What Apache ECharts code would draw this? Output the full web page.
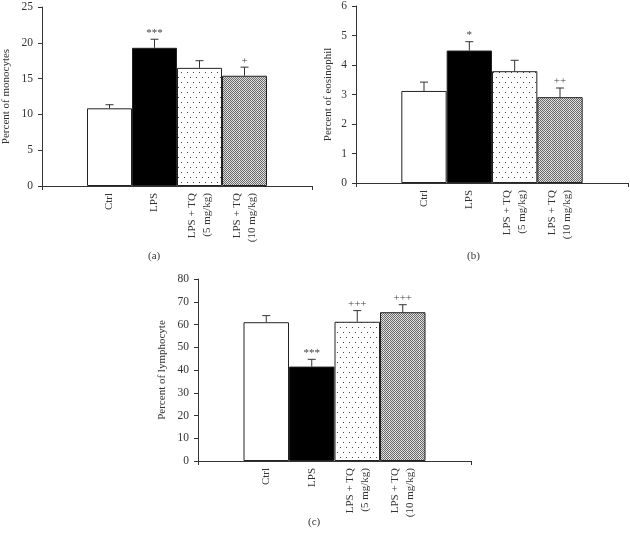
<!DOCTYPE html>
<html><head><meta charset="utf-8">
<script src="https://cdn.jsdelivr.net/npm/echarts@6/dist/echarts.min.js"></script>
<style>html,body{margin:0;padding:0;background:#fff}#c{width:630px;height:538px}</style>
</head><body><div id="c"></div>
<script>
// ---- data ----
const categories = ['', 'Ctrl', 'LPS', 'LPS + TQ\n(5 mg/kg)', 'LPS + TQ\n(10 mg/kg)', ''];
const monocytes = [null, 10.85, 19.3, 16.5, 15.4, null];
const monocytesSem = [null, 0.5, 1.2, 1.0, 1.2, null];
const monocytesSig = ['', '', '***', '', '+', ''];
const monocytesTicks = {min: 0, max: 25, interval: 5};

const eosinophil = [null, 3.12, 4.49, 3.79, 2.91, null];
const eosinophilSem = [null, 0.30, 0.30, 0.37, 0.31, null];
const eosinophilSig = ['', '', '*', '', '++', ''];
const eosinophilTicks = {min: 0, max: 6, interval: 1};

const lymphocyte = [null, 61.0, 41.5, 61.2, 65.4, null];
const lymphocyteSem = [null, 2.9, 3.2, 4.9, 3.3, null];
const lymphocyteSig = ['', '', '***', '+++', '+++', ''];
const lymphocyteTicks = {min: 0, max: 80, interval: 10};

const yNames = ['Percent of monocytes', 'Percent of eosinophil', 'Percent of lymphocyte'];
const captions = ['(a)', '(b)', '(c)'];

// ---- patterns ----
function sparseDots() {
  const c = document.createElement('canvas'); c.width = 6; c.height = 10;
  const g = c.getContext('2d');
  g.fillStyle = '#fff'; g.fillRect(0, 0, 6, 10);
  g.fillStyle = '#444';
  g.fillRect(1, 2, 1, 1); g.fillRect(4, 7, 1, 1);
  return {image: c, repeat: 'repeat'};
}
function denseDots() {
  const c = document.createElement('canvas'); c.width = 6; c.height = 2;
  const g = c.getContext('2d');
  for (let x = 0; x < 6; x++) for (let y = 0; y < 2; y++) {
    g.fillStyle = ((x + y) % 2 === 0) ? '#6a6a6a' : (x === 5 ? '#f0f0f0' : '#dcdcdc');
    g.fillRect(x, y, 1, 1);
  }
  return {image: c, repeat: 'repeat'};
}
const fills = [null, '#ffffff', '#000000', sparseDots(), denseDots(), null];

const FONT = 'Liberation Serif';
const chart = echarts.init(document.getElementById('c'), null, {renderer: 'canvas'});

const grids = [
  {left: 39, right: 318, top: 7, bottom: 352},
  {left: 356, right: 2, top: 3, bottom: 355},
  {left: 198, right: 159, top: 279, bottom: 77}
];
const nameGaps = [30, 22, 30];
const sets = [
  [monocytes, monocytesSem, monocytesSig, monocytesTicks],
  [eosinophil, eosinophilSem, eosinophilSig, eosinophilTicks],
  [lymphocyte, lymphocyteSem, lymphocyteSig, lymphocyteTicks]
];

const xAxis = [], yAxis = [], series = [];
sets.forEach((s, k) => {
  const [vals, sem, sig, ticks] = s;
  xAxis.push({
    type: 'category', gridIndex: k, data: categories, boundaryGap: true,
    axisLine: {lineStyle: {color: '#333', width: 1}},
    axisTick: {show: true, length: 4, lineStyle: {color: '#333'}, interval: (i) => i === 5},
    axisLabel: {interval: 0, rotate: 90, fontFamily: FONT, fontSize: 11, color: '#333', margin: 7, lineHeight: 15}
  });
  yAxis.push({
    type: 'value', gridIndex: k, min: ticks.min, max: ticks.max, interval: ticks.interval,
    name: yNames[k], nameLocation: 'middle', nameGap: nameGaps[k], nameRotate: 90,
    nameTextStyle: {fontFamily: FONT, fontSize: 11, color: '#333'},
    axisLine: {show: true, lineStyle: {color: '#333', width: 1}},
    axisTick: {show: true, length: 4, lineStyle: {color: '#333'}},
    axisLabel: {fontFamily: FONT, fontSize: 11.5, color: '#333', margin: 9},
    splitLine: {show: false}
  });
  series.push({
    type: 'bar', xAxisIndex: k, yAxisIndex: k, barWidth: '100%', barGap: '-100%',
    data: vals.map((v, i) => v == null ? '-' : {value: v, itemStyle: {color: fills[i], borderColor: '#222', borderWidth: 1}}),
    silent: true, z: 2
  });
  series.push({
    type: 'custom', xAxisIndex: k, yAxisIndex: k, z: 3, silent: true,
    data: vals.map((v, i) => v == null ? null : [i, v, sem[i]]).filter(d => d),
    renderItem: function (params, api) {
      const x = api.value(0), m = api.value(1), e = api.value(2);
      const p0 = api.coord([x, m]);
      const p1 = api.coord([x, m + e]);
      const label = sig[x];
      const children = [
        {type: 'line', shape: {x1: p0[0], y1: p0[1], x2: p1[0], y2: p1[1]}, style: {stroke: '#333', lineWidth: 1}},
        {type: 'line', shape: {x1: p1[0] - 4, y1: p1[1], x2: p1[0] + 4, y2: p1[1]}, style: {stroke: '#333', lineWidth: 1}}
      ];
      if (label) children.push({type: 'text', x: p1[0], y: p1[1] - 1, style: {text: label, textAlign: 'center', textVerticalAlign: 'bottom', font: '11px "' + FONT + '"', fill: '#444'}});
      return {type: 'group', children: children};
    }
  });
});

chart.setOption({
  animation: false,
  backgroundColor: '#fff',
  grid: grids,
  xAxis: xAxis, yAxis: yAxis, series: series,
  graphic: [
    {type: 'text', left: 148, top: 251, style: {text: captions[0], font: '11px "' + FONT + '"', fill: '#333'}},
    {type: 'text', left: 467, top: 251, style: {text: captions[1], font: '11px "' + FONT + '"', fill: '#333'}},
    {type: 'text', left: 308, top: 517, style: {text: captions[2], font: '11px "' + FONT + '"', fill: '#333'}}
  ]
});
</script></body></html>
